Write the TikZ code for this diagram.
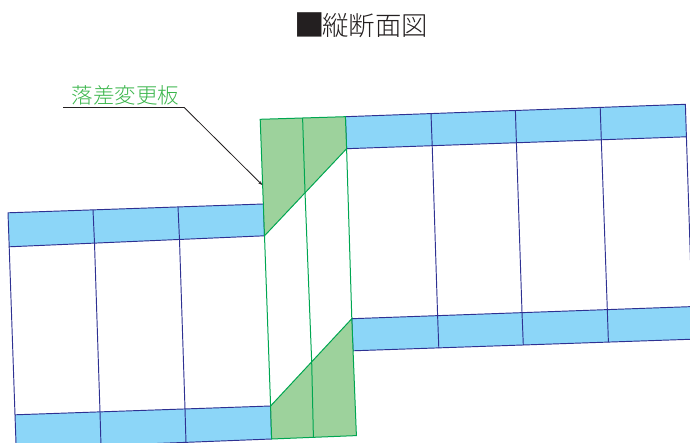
\documentclass[tikz,border=0pt]{standalone}
\usepackage{fontspec}
\newfontfamily\cjk[UprightFont=* Light]{Noto Sans CJK JP}
\usetikzlibrary{arrows.meta}
\definecolor{slabblue}{HTML}{8CD6F8}
\definecolor{navyline}{HTML}{2E3192}
\definecolor{plategreen}{HTML}{9DD29C}
\definecolor{greenline}{HTML}{00A651}
\definecolor{labelgreen}{HTML}{39B54A}
\definecolor{titleblack}{HTML}{231F20}
\tikzset{
  slab/.style={fill=slabblue, draw=navyline, line width=0.95pt, line join=miter},
  post/.style={draw=navyline, line width=0.95pt},
  plate/.style={fill=plategreen, draw=greenline, line width=1pt},
  greenpost/.style={draw=greenline, line width=1pt},
  leader/.style={draw=titleblack, line width=0.8pt}
}
\begin{document}
\begin{tikzpicture}[x=1pt,y=-1pt]
  \useasboundingbox (0,0) rectangle (690,443);
  \clip (0,0) rectangle (690,443);
  % Define the slabs
  \path[slab] (8,212.8) -- (263.5,204) -- (264.5,235.8) -- (9.2,246.8) -- cycle;
  \path[slab] (15,414.8) -- (270.6,406) -- (271.6,439) -- (16.2,449) -- cycle;
  \path[slab] (345.4,116.7) -- (685.4,104.3) -- (686.4,136.8) -- (346.6,148.7) -- cycle;
  \path[slab] (351.8,318.7) -- (692,306.6) -- (693,339.2) -- (353,350.8) -- cycle;
  % Draw the posts, left part
  \draw[post] (9.2,246.8) -- (15,414.8);
  \draw[post] (93,209.8) -- (94.5,243.3) -- (100,412) -- (101,446);
  \draw[post] (178,206.8) -- (179.5,240) -- (185,409) -- (186,443);
  % Draw the posts, right part
  \draw[post] (431,113.5) -- (432.2,145.7) -- (437.6,315.5) -- (438.8,348);
  \draw[post] (515.4,110.6) -- (516.4,142.6) -- (522,312.3) -- (523.3,345.2);
  \draw[post] (600.2,107.5) -- (601.3,139.7) -- (607.3,309.4) -- (608.4,342.2);
  \draw[post] (686.4,136.8) -- (692,306.6);
  % Draw the step plates
  \path[plate] (260.2,119.3) -- (345.4,116.7) -- (346.6,148.7) -- (264.5,235.8) -- cycle;
  \path[plate] (270.6,406) -- (351.8,318.7) -- (356.4,435.6) -- (271.6,439) -- cycle;
  \draw[greenpost] (302.6,118) -- (305,192) -- (311.7,362.3) -- (313.4,437.3);
  \draw[greenpost] (264.5,235.8) -- (270.6,406);
  \draw[greenpost] (346.6,148.7) -- (351.8,318.7);
  % Labels
  \node[inner sep=0pt, text=titleblack, font=\cjk\fontsize{26.4}{26.4}\selectfont] (title) at (361,25) {\raisebox{-1pt}{\fontsize{30.5}{30.5}\selectfont ■}\kern-2.5pt 縦断面図};
  \node[inner sep=0pt, text=labelgreen, font=\cjk\fontsize{21.5}{21.5}\selectfont] (platelabel) at (125.5,95.6) {落差変更板};
  % Leader
  \coordinate (leadstart) at (63,107.6);
  \coordinate (leadbend) at (184.3,107.6);
  \coordinate (leadend) at (262.3,185);
  \draw[leader, -{Stealth[length=4pt,width=3pt]}] (leadstart) -- (leadbend) -- (leadend);
\end{tikzpicture}
\end{document}
